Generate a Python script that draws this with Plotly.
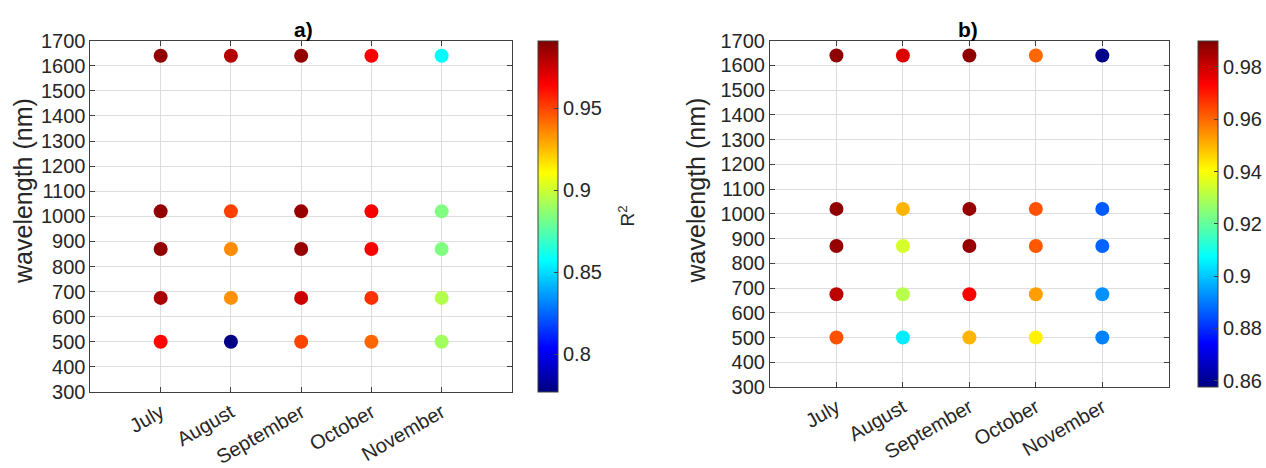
import plotly.graph_objects as go

# ---- data ----
months = ["July", "August", "September", "October", "November"]
wavelengths = [500, 675, 870, 1020, 1640]
y_ticks = [300, 400, 500, 600, 700, 800, 900, 1000, 1100, 1200, 1300, 1400, 1500, 1600, 1700]

# panel a) R^2 per wavelength, values for July..November
a_500 = [0.963, 0.778, 0.950, 0.943, 0.891]
a_675 = [0.982, 0.934, 0.975, 0.954, 0.895]
a_870 = [0.987, 0.935, 0.986, 0.965, 0.884]
a_1020 = [0.987, 0.951, 0.986, 0.966, 0.884]
a_1640 = [0.987, 0.980, 0.987, 0.965, 0.857]

# panel b)
b_500 = [0.963, 0.905, 0.950, 0.942, 0.891]
b_675 = [0.982, 0.931, 0.974, 0.953, 0.893]
b_870 = [0.987, 0.935, 0.987, 0.962, 0.887]
b_1020 = [0.988, 0.950, 0.987, 0.963, 0.886]
b_1640 = [0.988, 0.978, 0.988, 0.960, 0.859]

a_ticks = [0.8, 0.85, 0.9, 0.95]
b_ticks = [0.86, 0.88, 0.9, 0.92, 0.94, 0.96, 0.98]
a_range = [0.777, 0.991]
b_range = [0.8576, 0.990]

# ---- styling ----
W, H = 1266, 468
FONT = "Liberation Sans, Arial, sans-serif"
TXT = "#262626"
jet = [[0, "rgb(0,0,128)"], [0.125, "rgb(0,0,255)"], [0.375, "rgb(0,255,255)"],
       [0.625, "rgb(255,255,0)"], [0.875, "rgb(255,0,0)"], [1, "rgb(128,0,0)"]]


def px_x(p):
    return p / W


def px_y(p):
    return 1 - p / H


fig = go.Figure()


def add_panel(rows, xa, ya, cax):
    xs, ys, cs = [], [], []
    for wl, vals in zip(wavelengths, rows):
        for m, v in zip(months, vals):
            xs.append(m)
            ys.append(wl)
            cs.append(v)
    fig.add_trace(go.Scatter(
        x=xs, y=ys, mode="markers", xaxis=xa, yaxis=ya, showlegend=False,
        marker=dict(size=14, color=cs, coloraxis=cax, line=dict(width=0)),
    ))


add_panel([a_500, a_675, a_870, a_1020, a_1640], "x", "y", "coloraxis")
add_panel([b_500, b_675, b_870, b_1020, b_1640], "x2", "y2", "coloraxis2")

common_x = dict(
    type="category", categoryorder="array", categoryarray=months, range=[-1, 5],
    tickangle=-30, tickfont=dict(size=20, color=TXT, family=FONT),
    showgrid=True, gridcolor="#DEDEDE", gridwidth=1,
    showline=True, linecolor="#404040", linewidth=1, mirror="ticks",
    ticks="inside", ticklen=5, tickcolor="#404040", automargin=False, zeroline=False,
)
common_y = dict(
    range=[300, 1700], tickvals=y_ticks, tickfont=dict(size=20, color=TXT, family=FONT),
    showgrid=True, gridcolor="#DEDEDE", gridwidth=1,
    showline=True, linecolor="#404040", linewidth=1, mirror="ticks",
    ticks="inside", ticklen=5, tickcolor="#404040", automargin=False, zeroline=False,
)

ax_a = (90.5, 512.3, 40.7, 392.0)
ax_b = (770.6, 1169.7, 40.7, 387.0)


def cbar(x0, top, bottom, ticks):
    return dict(
        x=px_x(x0), xanchor="left", xref="paper",
        y=px_y((top + bottom) / 2), yanchor="middle",
        len=bottom - top, lenmode="pixels", thickness=20, thicknessmode="pixels",
        outlinecolor="#404040", outlinewidth=1,
        tickvals=ticks, ticks="inside", ticklen=4, tickcolor="#404040",
        tickfont=dict(size=20, color=TXT, family=FONT), xpad=0, ypad=0,
    )


fig.update_layout(
    width=W, height=H, margin=dict(l=0, r=0, t=0, b=0),
    paper_bgcolor="white", plot_bgcolor="white",
    font=dict(family=FONT, color=TXT),
    xaxis=dict(common_x, domain=[px_x(ax_a[0]), px_x(ax_a[1])], anchor="y"),
    yaxis=dict(common_y, domain=[px_y(ax_a[3]), px_y(ax_a[2])], anchor="x"),
    xaxis2=dict(common_x, domain=[px_x(ax_b[0]), px_x(ax_b[1])], anchor="y2"),
    yaxis2=dict(common_y, domain=[px_y(ax_b[3]), px_y(ax_b[2])], anchor="x2"),
    coloraxis=dict(colorscale=jet, cmin=a_range[0], cmax=a_range[1],
                   colorbar=cbar(538, ax_a[2], ax_a[3], a_ticks)),
    coloraxis2=dict(colorscale=jet, cmin=b_range[0], cmax=b_range[1],
                    colorbar=cbar(1198, ax_b[2], ax_b[3], b_ticks)),
    annotations=[
        dict(text="<b>a)</b>", x=px_x(304), y=px_y(29), xref="paper", yref="paper",
             showarrow=False, xanchor="center", yanchor="middle",
             font=dict(size=21, color="black", family=FONT)),
        dict(text="<b>b)</b>", x=px_x(969), y=px_y(29), xref="paper", yref="paper",
             showarrow=False, xanchor="center", yanchor="middle",
             font=dict(size=21, color="black", family=FONT)),
        dict(text="wavelength (nm)", x=px_x(23), y=px_y(191), xref="paper", yref="paper",
             showarrow=False, textangle=-90, xanchor="center", yanchor="middle",
             font=dict(size=25, color=TXT, family=FONT)),
        dict(text="wavelength (nm)", x=px_x(697), y=px_y(190), xref="paper", yref="paper",
             showarrow=False, textangle=-90, xanchor="center", yanchor="middle",
             font=dict(size=25, color=TXT, family=FONT)),
        dict(text="R<sup>2</sup>", x=px_x(627), y=px_y(216), xref="paper", yref="paper",
             showarrow=False, textangle=-90, xanchor="center", yanchor="middle",
             font=dict(size=19, color=TXT, family=FONT)),
    ],
)

fig.write_html("out.html")
